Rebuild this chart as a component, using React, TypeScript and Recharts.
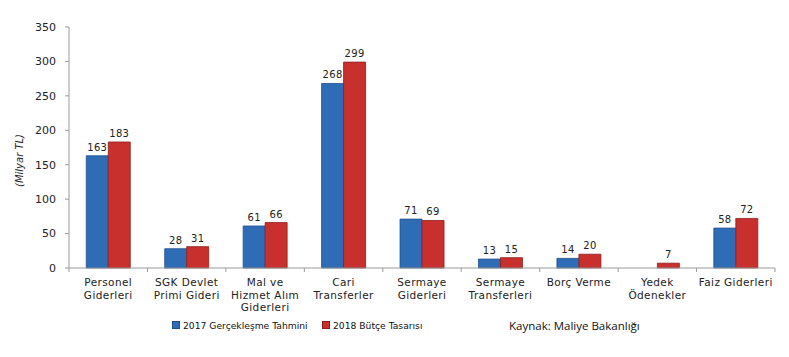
import React from 'react';
import { BarChart, Bar, XAxis, YAxis, Legend, LabelList } from 'recharts';

const categories: string[][] = [
  ['Personel', 'Giderleri'],
  ['SGK Devlet', 'Primi Gideri'],
  ['Mal ve', 'Hizmet Alım', 'Giderleri'],
  ['Cari', 'Transferler'],
  ['Sermaye', 'Giderleri'],
  ['Sermaye', 'Transferleri'],
  ['Borç Verme'],
  ['Yedek', 'Ödenekler'],
  ['Faiz Giderleri'],
];
const estimate2017: (number | null)[] = [163, 28, 61, 268, 71, 13, 14, null, 58];
const budget2018: number[] = [183, 31, 66, 299, 69, 15, 20, 7, 72];
const yTicks: number[] = [0, 50, 100, 150, 200, 250, 300, 350];
const seriesNames = ['2017 Gerçekleşme Tahmini', '2018 Bütçe Tasarısı'];
const sourceText = 'Kaynak: Maliye Bakanlığı';

const data = categories.map((c, i) => ({
  name: c.join(' '),
  lines: c,
  a: estimate2017[i],
  b: budget2018[i],
}));

const W = 789;
const H = 357;
const MARGIN = { top: 27, right: 14, left: 0, bottom: 22 };
const Y_W = 69;
const FONT = '"DejaVu Sans", Verdana, sans-serif';
const BLUE = '#2E6DB6';
const BLUE_S = '#1d4f8e';
const RED = '#C8302E';
const RED_S = '#8e1e1c';
const AXIS = '#9a9a9a';
const BAND = (W - MARGIN.left - MARGIN.right - Y_W) / categories.length;

const XTick = (props: any) => {
  const { x, y, payload, index } = props;
  const lines: string[] = data[index]?.lines ?? [String(payload.value)];
  return (
    <g>
      <line x1={x - BAND / 2} y1={y} x2={x - BAND / 2} y2={y + 4} stroke={AXIS} />
      {index === categories.length - 1 && (
        <line x1={x + BAND / 2} y1={y} x2={x + BAND / 2} y2={y + 4} stroke={AXIS} />
      )}
      <text x={x} y={y} textAnchor="middle" fontFamily={FONT} fontSize={10.5} letterSpacing={0.4} fill="#222">
        {lines.map((l, i) => (
          <tspan key={i} x={x} y={y + 18 + i * 12.5}>
            {l}
          </tspan>
        ))}
      </text>
    </g>
  );
};

const YLabel = (props: any) => {
  const vb = props.viewBox || { x: 0, y: 0, width: 0, height: 0 };
  const cx = vb.x + 19;
  const cy = vb.y + vb.height / 2 + 13;
  return (
    <text
      x={cx}
      y={cy}
      transform={`rotate(-90, ${cx}, ${cy})`}
      textAnchor="middle"
      dominantBaseline="central"
      fontFamily={FONT}
      fontStyle="italic"
      fontSize={10}
      fill="#222"
    >
      (Milyar TL)
    </text>
  );
};

const LegendContent = (props: any) => {
  const payload = props.payload || [];
  const starts = [172, 322];
  return (
    <div style={{ position: 'relative', width: W, height: 20, fontFamily: FONT }}>
      {payload.map((p: any, i: number) => (
        <div
          key={i}
          style={{
            position: 'absolute',
            left: starts[i],
            top: 0,
            height: 20,
            display: 'flex',
            alignItems: 'center',
            fontSize: 9.2,
            color: '#111',
            whiteSpace: 'nowrap',
          }}
        >
          <span
            style={{
              display: 'inline-block',
              width: 6,
              height: 6,
              background: p.color,
              border: `1px solid ${i === 0 ? BLUE_S : RED_S}`,
              marginRight: 3,
            }}
          />
          {p.value}
        </div>
      ))}
      <div
        style={{
          position: 'absolute',
          left: 509,
          top: 0,
          height: 20,
          display: 'flex',
          alignItems: 'center',
          fontFamily: '"Open Sans", sans-serif',
          fontSize: 11.5,
          color: '#111',
          whiteSpace: 'nowrap',
        }}
      >
        {sourceText}
      </div>
    </div>
  );
};

const hideEmpty = (v: any) => (v === null || v === undefined || v === 0 ? '' : v);

export default function App() {
  return (
    <div style={{ position: 'absolute', left: 0, top: 0, width: W, height: H, background: '#fff' }}>
      <BarChart
        width={W}
        height={H}
        data={data}
        margin={MARGIN}
        barCategoryGap="22%"
        barGap={0}
      >
        <XAxis
          dataKey="name"
          interval={0}
          tickLine={false}
          tickSize={0}
          tickMargin={0}
          height={47}
          stroke={AXIS}
          tick={<XTick />}
        />
        <YAxis
          width={Y_W}
          domain={[0, 350]}
          ticks={yTicks}
          tickSize={4}
          tickMargin={9}
          stroke={AXIS}
          tick={{ fontFamily: FONT, fontSize: 11, fill: '#222' }}
          label={<YLabel />}
        />
        <Legend
          verticalAlign="bottom"
          height={20}
          wrapperStyle={{ left: 0, width: W }}
          content={<LegendContent />}
        />
        <Bar dataKey="a" name={seriesNames[0]} fill={BLUE} stroke={BLUE_S} strokeWidth={0.8} isAnimationActive={false}>
          <LabelList dataKey="a" position="top" offset={5} formatter={hideEmpty} style={{ fontFamily: FONT, fontSize: 10, fill: '#222', letterSpacing: 0.3 }} />
        </Bar>
        <Bar dataKey="b" name={seriesNames[1]} fill={RED} stroke={RED_S} strokeWidth={0.8} isAnimationActive={false}>
          <LabelList dataKey="b" position="top" offset={5} formatter={hideEmpty} style={{ fontFamily: FONT, fontSize: 10, fill: '#222', letterSpacing: 0.3 }} />
        </Bar>
      </BarChart>
    </div>
  );
}
